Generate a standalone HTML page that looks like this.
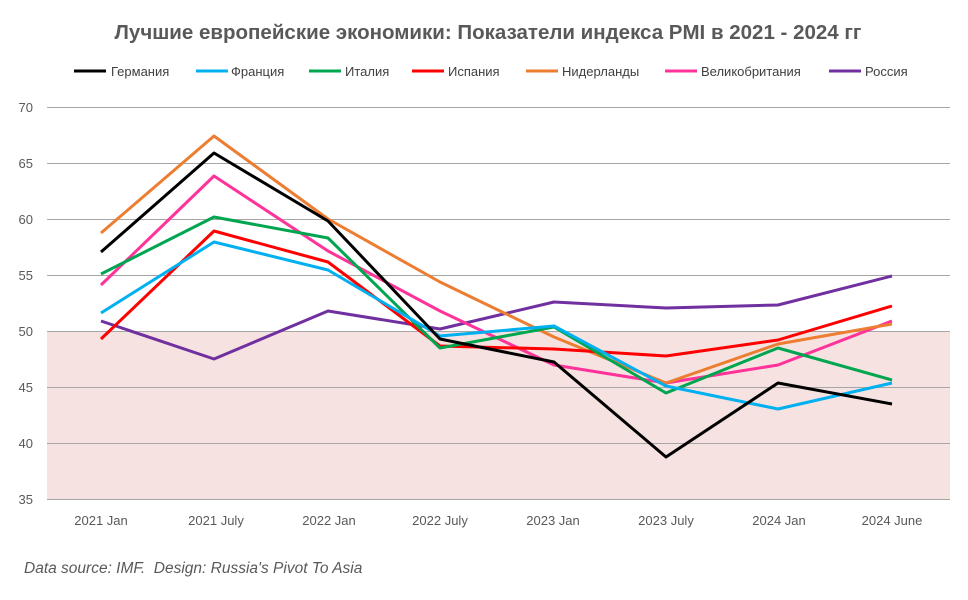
<!DOCTYPE html>
<html><head><meta charset="utf-8"><style>
body{margin:0;background:#fff;}
svg{display:block;font-family:"Liberation Sans","DejaVu Sans",sans-serif;}
</style></head><body>
<svg width="968" height="600" viewBox="0 0 968 600" xmlns="http://www.w3.org/2000/svg">
<rect width="968" height="600" fill="#fff"/>
<text x="488" y="39" text-anchor="middle" font-size="20.5" font-weight="bold" fill="#595959">Лучшие европейские экономики: Показатели индекса PMI в 2021 - 2024 гг</text>
<g font-size="13" fill="#404040">
<line x1="74" y1="71" x2="106" y2="71" stroke="#000" stroke-width="3"/><text x="111" y="76">Германия</text>
<line x1="196" y1="71" x2="228" y2="71" stroke="#00b0f0" stroke-width="3"/><text x="231" y="76">Франция</text>
<line x1="309" y1="71" x2="341" y2="71" stroke="#00a550" stroke-width="3"/><text x="345" y="76">Италия</text>
<line x1="412" y1="71" x2="444" y2="71" stroke="#ff0000" stroke-width="3"/><text x="448" y="76">Испания</text>
<line x1="526" y1="71" x2="558" y2="71" stroke="#ed7d31" stroke-width="3"/><text x="562" y="76">Нидерланды</text>
<line x1="665" y1="71" x2="697" y2="71" stroke="#ff3399" stroke-width="3"/><text x="701" y="76">Великобритания</text>
<line x1="829" y1="71" x2="861" y2="71" stroke="#7030a0" stroke-width="3"/><text x="865" y="76">Россия</text>
</g>
<rect x="47" y="331" width="903" height="168" fill="#f6e3e1"/>
<g stroke="#a6a6a6" stroke-width="1">
<line x1="47" y1="107.5" x2="950" y2="107.5"/><line x1="47" y1="163.5" x2="950" y2="163.5"/>
<line x1="47" y1="219.5" x2="950" y2="219.5"/><line x1="47" y1="275.5" x2="950" y2="275.5"/>
<line x1="47" y1="331.5" x2="950" y2="331.5"/><line x1="47" y1="387.5" x2="950" y2="387.5"/>
<line x1="47" y1="443.5" x2="950" y2="443.5"/><line x1="47" y1="499.5" x2="950" y2="499.5"/>
</g>
<g font-size="13" fill="#595959" text-anchor="end">
<text x="33" y="112">70</text><text x="33" y="168">65</text><text x="33" y="224">60</text><text x="33" y="280">55</text>
<text x="33" y="336">50</text><text x="33" y="392">45</text><text x="33" y="448">40</text><text x="33" y="504">35</text>
</g>
<g font-size="13" fill="#595959" text-anchor="middle">
<text x="101" y="525">2021 Jan</text><text x="216" y="525">2021 July</text><text x="329" y="525">2022 Jan</text>
<text x="440" y="525">2022 July</text><text x="553" y="525">2023 Jan</text><text x="666" y="525">2023 July</text>
<text x="779" y="525">2024 Jan</text><text x="892" y="525">2024 June</text>
</g>
<g fill="none" stroke-width="3" stroke-linejoin="round">
<polyline stroke="#7030a0" points="101,321 214,359 328,311 440,329 554,302 666,308 778,305 892,276"/>
<polyline stroke="#ff3399" points="101,285 214,176 328,251 440,311 554,365 666,383 778,365 892,321"/>
<polyline stroke="#ed7d31" points="101,233 214,136 328,219 440,282 554,337 666,383 778,344 892,324"/>
<polyline stroke="#ff0000" points="101,339 214,231 328,262 440,346 554,349 666,356 778,340 892,306"/>
<polyline stroke="#00a550" points="101,274 214,217 328,238 440,348 554,327 666,393 778,348 892,380"/>
<polyline stroke="#00b0f0" points="101,313 214,242 328,270 440,336 554,326 666,386 778,409 892,383"/>
<polyline stroke="#000000" points="101,252 214,153 328,221 440,339 554,362 666,457 778,383 892,404"/>
</g>
<text x="24" y="573" font-size="15.5" font-style="italic" fill="#595959" xml:space="preserve" style="white-space:pre">Data source: IMF.  Design: Russia's Pivot To Asia</text>
</svg>
</body></html>
